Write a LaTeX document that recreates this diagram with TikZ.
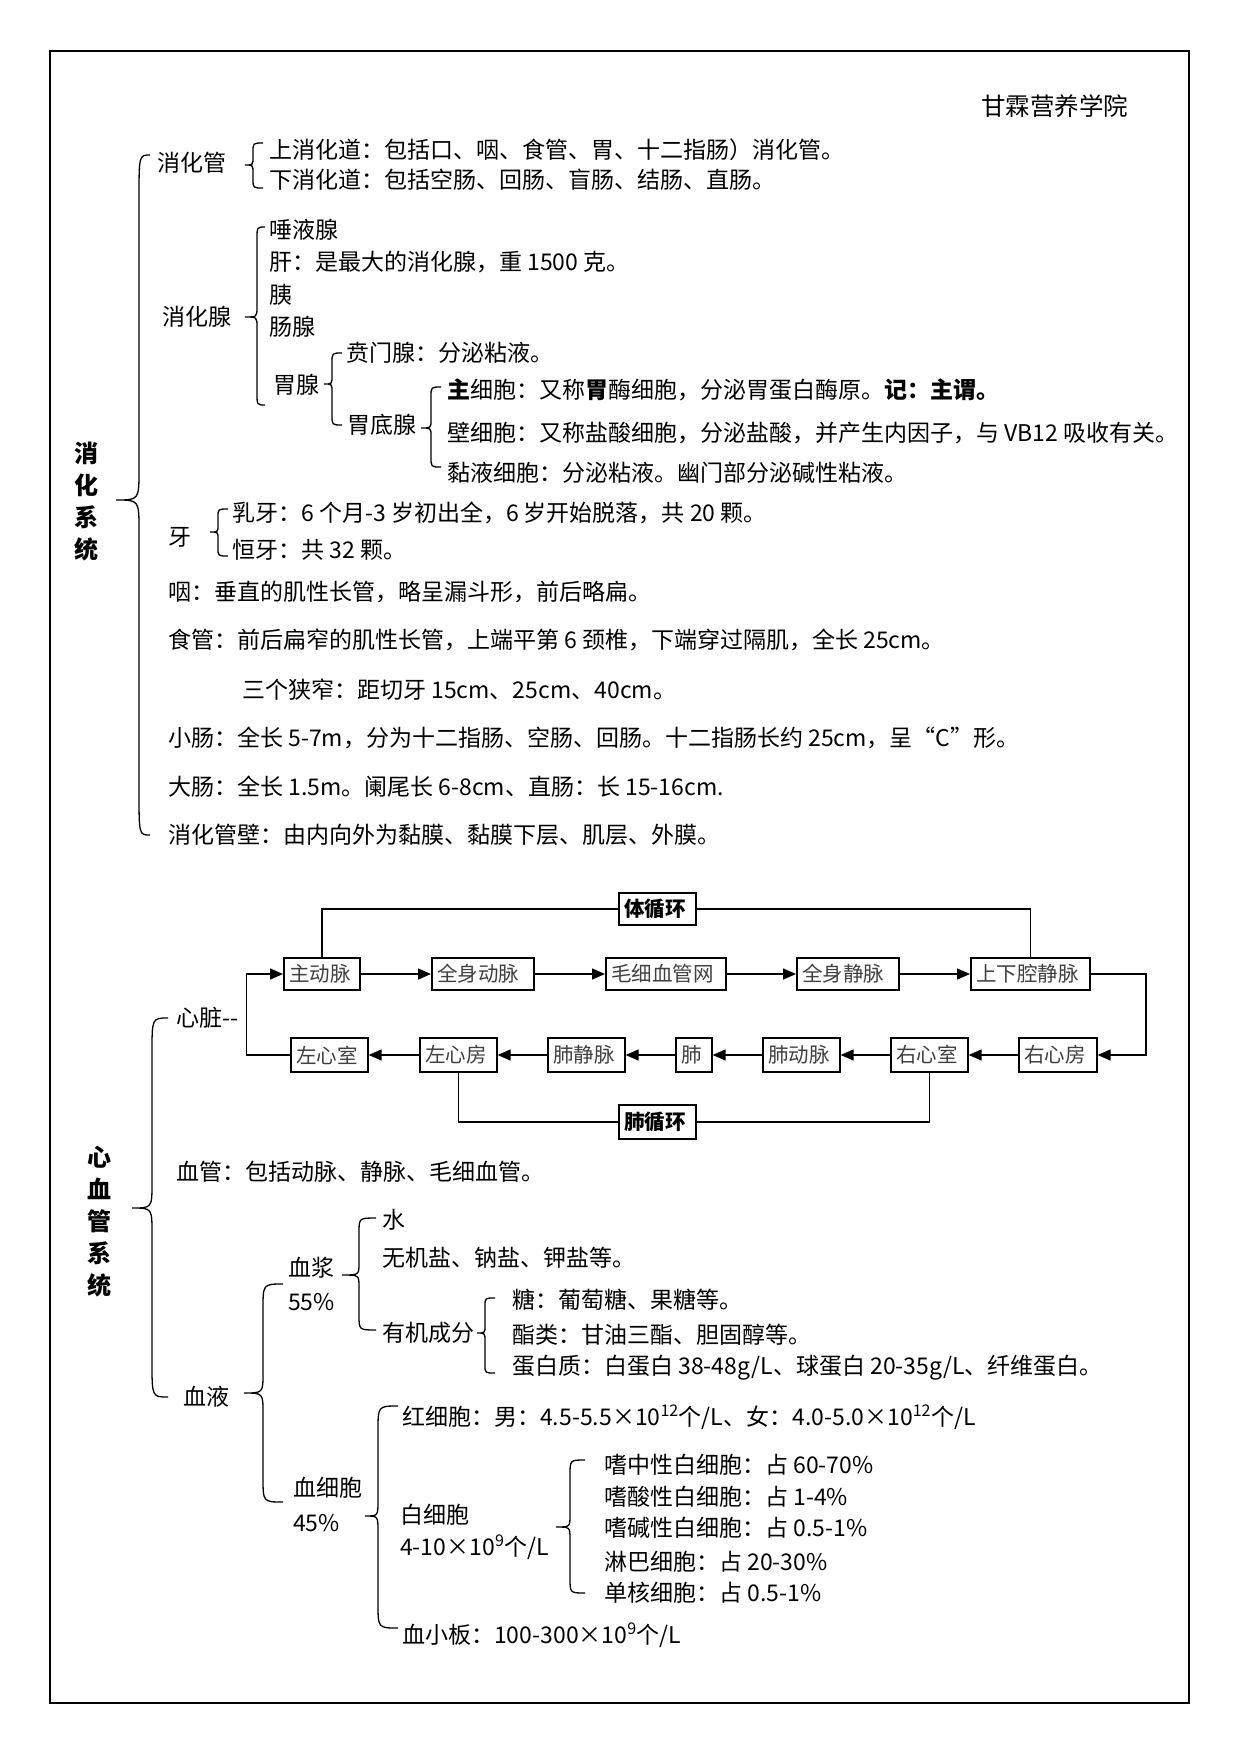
\documentclass[tikz,border=0pt]{standalone}
\usepackage{fontspec}
\setmainfont{Noto Sans CJK SC}
\usetikzlibrary{arrows.meta}
% brace: #1 x of vertical, #2 y top, #3 y tip, #4 y bottom, #5 x of ends, #6 x of tip, #7 end radius, #8 tip radius
\newcommand\mybrace[8]{%
  \draw[brc] ({#5},{#2}) .. controls ({#1},{#2}) .. ({#1},{#2+#7}) -- ({#1},{#3-#8})
    .. controls ({#1},{#3}) .. ({#6},{#3}) .. controls ({#1},{#3}) .. ({#1},{#3+#8})
    -- ({#1},{#4-#7}) .. controls ({#1},{#4}) .. ({#5},{#4});}
\begin{document}
\begin{tikzpicture}[x=1pt,y=-1pt,
  txt/.style={anchor=west, inner sep=0pt, font=\fontsize{23}{27}\selectfont},
  ttl/.style={anchor=west, inner sep=0pt, font=\fontsize{24.5}{29}\selectfont},
  bigl/.style={inner sep=0pt, align=center, font=\fontsize{24}{32}\selectfont\bfseries},
  bx/.style={draw, line width=2pt, minimum height=32pt, inner xsep=5pt, inner ysep=0pt, align=left, text=black!75, font=\fontsize{20.5}{24}\selectfont},
  bxtwo/.style={bx, line width=1.3pt, minimum height=34pt},
  bbx/.style={bx, text=black, font=\fontsize{20.5}{24}\selectfont\bfseries},
  arr/.style={line width=1.5pt, -{Triangle[length=13pt,width=11pt]}},
  ln/.style={line width=1.3pt},
  brc/.style={line width=1.3pt}]
\useasboundingbox (0,0) rectangle (1241,1754);
\fill[white] (0,0) rectangle (1241,1754);
\draw[line width=2pt] (50,51) rectangle (1189,1703);

\node[ttl] (title) at (981,106) {甘霖营养学院};

% ---------- 消化系统 ----------
\node[bigl] (xhxt) at (86,501) {消\\化\\系\\统};
\mybrace{139}{155}{500}{835}{150}{116}{45}{30}

\node[txt] (xhg) at (157,163) {消化管};
\mybrace{253}{143}{165}{188}{263}{245}{9}{8}
\node[txt] (sxhd) at (269,150) {上消化道：包括口、咽、食管、胃、十二指肠）消化管。};
\node[txt] (xxhd) at (269,180) {下消化道：包括空肠、回肠、盲肠、结肠、直肠。};

\node[txt] (xhx) at (162,317) {消化腺};
\mybrace{257}{227}{317}{405}{265}{245}{12}{10}
\node[txt] (tyx) at (269,230) {唾液腺};
\node[txt] (gan) at (269,262) {肝：是最大的消化腺，重 1500 克。};
\node[txt] (yi) at (269,295) {胰};
\node[txt] (cx) at (269,327) {肠腺};
\node[txt] (wx) at (273,385) {胃腺};
\mybrace{332}{353}{384}{425}{342}{324}{10}{8}
\node[txt] (bmx) at (346,353) {贲门腺：分泌粘液。};
\node[txt] (wdx) at (347,425) {胃底腺};
\mybrace{431}{387}{428}{467}{441}{421}{10}{8}
\node[txt] (zxb) at (447,390) {\textbf{主}细胞：又称\textbf{胃}酶细胞，分泌胃蛋白酶原。\textbf{记：主谓。}};
\node[txt] (bixb) at (447,433) {壁细胞：又称盐酸细胞，分泌盐酸，并产生内因子，与 VB12 吸收有关。};
\node[txt] (nyxb) at (447,473) {黏液细胞：分泌粘液。幽门部分泌碱性粘液。};

\node[txt] (ya) at (168,537) {牙};
\mybrace{218}{509}{532}{556}{228}{210}{8}{7}
\node[txt] (ry) at (232,513) {乳牙：6 个月-3 岁初出全，6 岁开始脱落，共 20 颗。};
\node[txt] (hy) at (232,550) {恒牙：共 32 颗。};

\node[txt] (yan) at (168,592) {咽：垂直的肌性长管，略呈漏斗形，前后略扁。};
\node[txt] (sg) at (168,640) {食管：前后扁窄的肌性长管，上端平第 6 颈椎，下端穿过隔肌，全长 25cm。};
\node[txt] (sgxz) at (242,690) {三个狭窄：距切牙 15cm、25cm、40cm。};
\node[txt] (xc) at (168,738) {小肠：全长 5-7m，分为十二指肠、空肠、回肠。十二指肠长约 25cm，呈“C”形。};
\node[txt] (dc) at (168,787) {大肠：全长 1.5m。阑尾长 6-8cm、直肠：长 15-16cm.};
\node[txt] (xhgb) at (168,835) {消化管壁：由内向外为黏膜、黏膜下层、肌层、外膜。};

% ---------- 心血管系统 ----------
\node[bigl] (xxgxt) at (99,1222) {心\\血\\管\\系\\统};
\mybrace{152}{1018}{1208}{1397}{168}{132}{35}{25}
\node[txt] (xz) at (176,1018) {心脏-{}-};

\node[bx, text width=66pt] (zdm) at (322,974) {主动脉};
\node[bx, text width=92pt] (qsdm) at (483,974) {全身动脉};
\node[bx, text width=110pt] (mxxg) at (666,974) {毛细血管网};
\node[bx, text width=92pt] (qsjm) at (848,974) {全身静脉};
\node[bx, text width=109pt] (sxq) at (1030.5,974) {上下腔静脉};

\node[bxtwo, text width=67pt] (zxs) at (329.5,1055) {左心室};
\node[bxtwo, text width=67pt] (zxf) at (458.5,1055) {左心房};
\node[bxtwo, text width=67pt] (fjm) at (586.5,1055) {肺静脉};
\node[bxtwo, text width=26pt] (fei) at (694,1055) {肺};
\node[bxtwo, text width=67pt] (fdm) at (801.5,1055) {肺动脉};
\node[bxtwo, text width=67pt] (yxs) at (929.5,1055) {右心室};
\node[bxtwo, text width=68pt] (yxf) at (1058,1055) {右心房};

\node[bbx, text width=67pt] (tx) at (657.5,909) {体循环};
\node[bbx, text width=67pt, minimum height=34pt] (fx) at (657.5,1122) {肺循环};

\draw[arr] (zdm.east) -- (qsdm.west);
\draw[arr] (qsdm.east) -- (mxxg.west);
\draw[arr] (mxxg.east) -- (qsjm.west);
\draw[arr] (qsjm.east) -- (sxq.west);
\draw[arr] (sxq.east) -- ++(55,0) |- (yxf.east);
\draw[arr] (yxf.west) -- (yxs.east);
\draw[arr] (yxs.west) -- (fdm.east);
\draw[arr] (fdm.west) -- (fei.east);
\draw[arr] (fei.west) -- (fjm.east);
\draw[arr] (fjm.west) -- (zxf.east);
\draw[arr] (zxf.west) -- (zxs.east);
\draw[arr] (zxs.west) -- ++(-44,0) |- (zdm.west);

\draw[ln] (zdm.north) |- (tx.west);
\draw[ln] (tx.east) -| (sxq.north);
\draw[ln] (zxf.south) |- (fx.west);
\draw[ln] (fx.east) -| (yxs.south);

\node[txt] (xg) at (176,1172) {血管：包括动脉、静脉、毛细血管。};

\node[txt] (xy) at (183,1397) {血液};
\mybrace{263}{1284}{1393}{1502}{283}{244}{25}{20}

\node[txt] (xj) at (288,1268) {血浆};
\node[txt] (pa) at (288,1302) {55\%};
\mybrace{359}{1218}{1275}{1330}{376}{342}{15}{12}
\node[txt] (shui) at (382,1220) {水};
\node[txt] (wjy) at (382,1258) {无机盐、钠盐、钾盐等。};
\node[txt] (yjcf) at (382,1333) {有机成分};
\mybrace{485}{1298}{1333}{1373}{495}{477}{8}{8}
\node[txt] (tang) at (512,1300) {糖：葡萄糖、果糖等。};
\node[txt] (zl) at (512,1335) {酯类：甘油三酯、胆固醇等。};
\node[txt] (dbz) at (512,1368) {蛋白质：白蛋白 38-48g/L、球蛋白 20-35g/L、纤维蛋白。};

\node[txt] (xxb) at (293,1488) {血细胞};
\node[txt] (pb) at (293,1523) {45\%};
\mybrace{378}{1406}{1516}{1628}{398}{365}{25}{15}
\node[txt] (hxb) at (402,1417) {红细胞：男：4.5-5.5×10\textsuperscript{12}个/L、女：4.0-5.0×10\textsuperscript{12}个/L};
\node[txt] (bxb) at (400,1515) {白细胞};
\node[txt] (bxbn) at (400,1547) {4-10×10\textsuperscript{9}个/L};
\mybrace{570}{1460}{1527}{1593}{585}{556}{15}{12}
\node[txt] (wa) at (604,1465) {嗜中性白细胞：占 60-70\%};
\node[txt] (wb) at (604,1497) {嗜酸性白细胞：占 1-4\%};
\node[txt] (wc) at (604,1528) {嗜碱性白细胞：占 0.5-1\%};
\node[txt] (wd) at (604,1562) {淋巴细胞：占 20-30\%};
\node[txt] (we) at (604,1593) {单核细胞：占 0.5-1\%};
\node[txt] (xxbb) at (402,1635) {血小板：100-300×10\textsuperscript{9}个/L};
\end{tikzpicture}
\end{document}
